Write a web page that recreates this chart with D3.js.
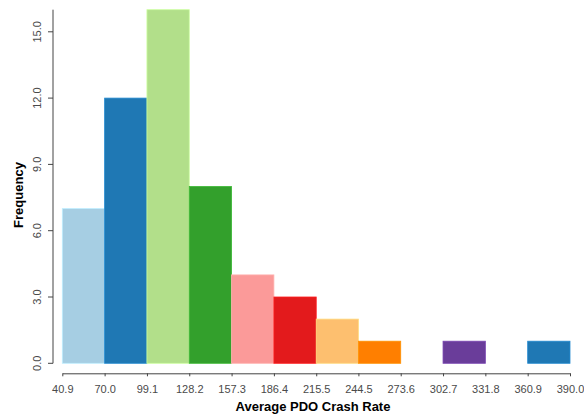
<!DOCTYPE html>
<html>
<head>
<meta charset="utf-8">
<script src="https://cdn.jsdelivr.net/npm/d3@7"></script>
<style>
  html, body { margin: 0; padding: 0; background: #fff; }
  svg { display: block; font-family: "Liberation Sans", Arial, sans-serif; }
</style>
</head>
<body>
<svg id="chart" width="584" height="418"></svg>
<script>
// Histogram of average PDO crash rates: bin edges and counts per bin
const binEdges = [40.9, 70.0, 99.1, 128.2, 157.3, 186.4, 215.5, 244.5, 273.6, 302.7, 331.8, 360.9, 390.0];
const binCounts = [7, 12, 16, 8, 4, 3, 2, 1, 0, 1, 0, 1];
const yTicks = [0, 3, 6, 9, 12, 15];
const palette = ["#a6cee3", "#1f78b4", "#b2df8a", "#33a02c", "#fb9a99",
                 "#e31a1c", "#fdbf6f", "#ff7f00", "#cab2d6", "#6a3d9a"];

const bins = binCounts.map((c, i) => ({ x0: binEdges[i], x1: binEdges[i + 1], count: c, i }));

const svg = d3.select("#chart");

const x = d3.scaleLinear().domain([binEdges[0], binEdges[binEdges.length - 1]]).range([62.3, 570]);
const y = d3.scaleLinear().domain([0, 16]).range([363.3, 9.7]);

// bars
svg.append("g")
  .selectAll("rect")
  .data(bins.filter(d => d.count > 0))
  .join("rect")
  .attr("x", d => x(d.x0))
  .attr("y", d => y(d.count))
  .attr("width", d => x(d.x1) - x(d.x0))
  .attr("height", d => y(0) - y(d.count))
  .attr("fill", d => palette[d.i % palette.length])
  .attr("stroke", d => d3.color(palette[d.i % palette.length]).brighter(0.4))
  .attr("stroke-width", 0.8);

// y axis
const yAxisX = 53;
const gy = svg.append("g");
gy.append("line")
  .attr("x1", yAxisX).attr("x2", yAxisX)
  .attr("y1", y(0)).attr("y2", y(16))
  .attr("stroke", "#444").attr("stroke-width", 1);
gy.selectAll("line.tick")
  .data(yTicks)
  .join("line")
  .attr("class", "tick")
  .attr("x1", yAxisX - 5).attr("x2", yAxisX)
  .attr("y1", d => y(d)).attr("y2", d => y(d))
  .attr("stroke", "#444").attr("stroke-width", 1);
gy.selectAll("text")
  .data(yTicks)
  .join("text")
  .attr("transform", d => `translate(40.5,${y(d)}) rotate(-90)`)
  .attr("text-anchor", "middle")
  .attr("font-size", 11)
  .attr("fill", "#4a4a4a")
  .text(d => d3.format(".1f")(d));

// x axis
const xAxisY = 373.3;
const gx = svg.append("g").attr("transform", `translate(0,${xAxisY})`)
  .call(d3.axisBottom(x).tickValues(binEdges).tickSizeInner(3).tickSizeOuter(0)
    .tickFormat(d => d3.format(".1f")(d)));
gx.select(".domain").attr("stroke", "#444");
gx.selectAll(".tick line").attr("stroke", "#444");
gx.selectAll(".tick text")
  .attr("y", 0).attr("dy", 0)
  .attr("transform", "translate(0,20)")
  .attr("font-size", 11)
  .attr("font-family", "'Liberation Sans', Arial, sans-serif")
  .attr("fill", "#4a4a4a");

// axis titles
svg.append("text")
  .attr("x", 313).attr("y", 411)
  .attr("text-anchor", "middle")
  .attr("font-size", 13).attr("font-weight", "bold")
  .attr("fill", "#000")
  .text("Average PDO Crash Rate");

svg.append("text")
  .attr("transform", "translate(23,195) rotate(-90)")
  .attr("text-anchor", "middle")
  .attr("font-size", 13).attr("font-weight", "bold")
  .attr("fill", "#000")
  .text("Frequency");
</script>
</body>
</html>
